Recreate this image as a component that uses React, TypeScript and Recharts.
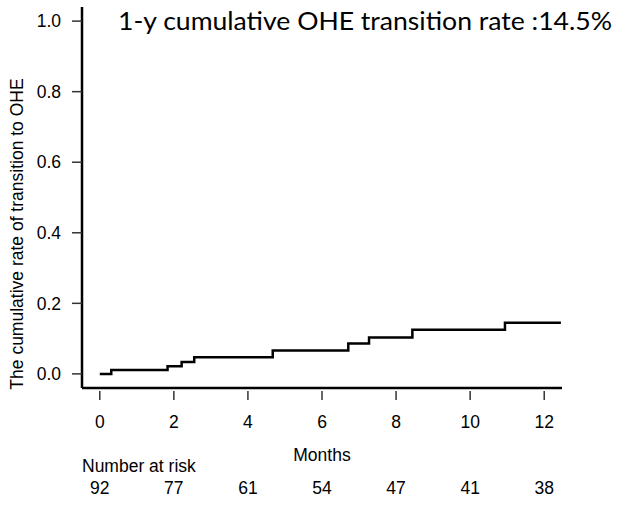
// cumulative OHE transition step curve (KM style)

import { Line, LineChart, XAxis, YAxis } from "recharts";

const months = [0, 0.31, 1.83, 2.21, 2.55, 4.67, 6.71, 7.27, 8.44, 10.94, 12.45];
const rates = [0, 0.011, 0.022, 0.034, 0.047, 0.066, 0.086, 0.103, 0.125, 0.145, 0.145];

const xTicks = [0, 2, 4, 6, 8, 10, 12];
const yTicks = [0, 0.2, 0.4, 0.6, 0.8, 1.0];
const atRisk = [92, 77, 61, 54, 47, 41, 38];

const data = months.map((m, i) => ({ month: m, rate: rates[i] }));

const FONT = "'Liberation Sans', Arial, sans-serif";
const FS = 17.5;

function MonthTick(props: any) {
  const { x, y, payload, index } = props;
  return (
    <g>
      <line x1={x} x2={x} y1={y + 3} y2={y + 12} stroke="#333" strokeWidth={1.5} />
      <text x={x} y={y + 40} textAnchor="middle" fontFamily={FONT} fontSize={FS} fill="#000">
        {payload.value}
      </text>
      <text x={x} y={y + 106} textAnchor="middle" fontFamily={FONT} fontSize={FS} fill="#000">
        {atRisk[index]}
      </text>
    </g>
  );
}

export default function App() {
  return (
    <div style={{ position: "absolute", left: 0, top: 0, width: 625, height: 509, background: "#fff" }}>
      <LineChart width={625} height={509} data={data} margin={{ top: 7, right: 63, bottom: 0, left: 0 }}>
        <XAxis
          dataKey="month"
          type="number"
          domain={[-0.48, 12.48]}
          ticks={xTicks}
          allowDataOverflow
          height={121}
          tickLine={false}
          tickSize={0}
          tickMargin={0}
          axisLine={{ stroke: "#000", strokeWidth: 2.5 }}
          tick={<MonthTick />}
          interval={0}
        />
        <YAxis
          type="number"
          domain={[-0.04, 1.04]}
          ticks={yTicks}
          allowDataOverflow
          width={82}
          tickSize={10}
          tickMargin={11}
          tickFormatter={(v: number) => v.toFixed(1)}
          tickLine={{ stroke: "#333", strokeWidth: 1.5 }}
          axisLine={{ stroke: "#000", strokeWidth: 2.5 }}
          tick={{ fill: "#000", fontSize: FS, fontFamily: FONT }}
          interval={0}
        />
        <Line
          dataKey="rate"
          type="stepAfter"
          stroke="#000"
          strokeWidth={2.5}
          dot={false}
          activeDot={false}
          isAnimationActive={false}
        />
        <text x={118} y={30} fontFamily="Lato, 'Open Sans', sans-serif" fontSize={25.5} fill="#000" textLength={494} lengthAdjust="spacingAndGlyphs">
          1-y cumulative OHE transition rate :14.5%
        </text>
        <text transform="rotate(-90)" x={-234} y={23} textAnchor="middle" fontFamily={FONT} fontSize={FS} fill="#000">
          The cumulative rate of transition to OHE
        </text>
        <text x={322} y={461} textAnchor="middle" fontFamily={FONT} fontSize={FS} fill="#000">
          Months
        </text>
        <text x={82} y={472} fontFamily={FONT} fontSize={FS} fill="#000">
          Number at risk
        </text>
      </LineChart>
    </div>
  );
}
